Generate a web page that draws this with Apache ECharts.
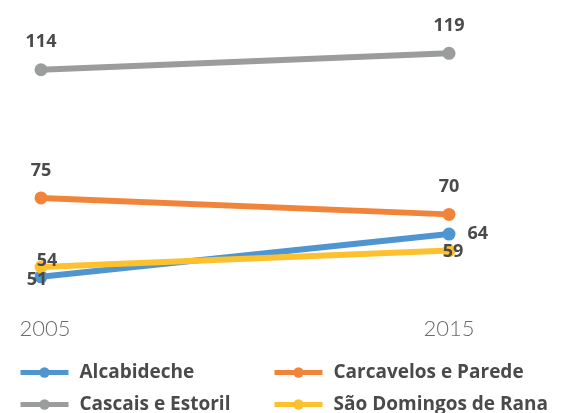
<!DOCTYPE html>
<html>
<head>
<meta charset="utf-8">
<script src="https://cdn.jsdelivr.net/npm/echarts@6/dist/echarts.min.js"></script>
<style>
  html, body { margin: 0; padding: 0; background: #fff; }
  #chart { width: 572px; height: 413px; }
</style>
</head>
<body>
<div id="chart"></div>
<script>
// Years on the category axis
const years = ['2005', '2015'];

// Values per parish
const alcabideche = [51, 64];
const carcavelos = [75, 70];
const cascais = [114, 119];
const saoDomingos = [54, 59];

const names = ['Alcabideche', 'Carcavelos e Parede', 'Cascais e Estoril', 'São Domingos de Rana'];
const colors = ['#4f95d0', '#f2843a', '#9b9d9c', '#fcc12c'];

const textFont = { fontFamily: 'Open Sans', fontWeight: 'bold', fontSize: 18, color: '#4a4a4a' };
const yearFont = { fontFamily: 'Lato', fontWeight: 300, fontSize: 22, color: '#6a6a6a' };

function makeSeries(name, values, color, labelCfg) {
  return {
    name: name,
    type: 'line',
    data: values.map((v, i) => ({
      value: v,
      label: Object.assign({ show: true, formatter: '{c}' }, textFont, labelCfg[i])
    })),
    symbol: 'circle',
    symbolSize: 13,
    lineStyle: { width: 6, color: color },
    itemStyle: { color: color },
    emphasis: { disabled: true },
    animation: false
  };
}

// one legend entry per slot of the 2x2 key below the plot
function legendEntry(name, left, top) {
  return {
    data: [name],
    left: left,
    top: top,
    padding: 0,
    itemWidth: 48,
    itemHeight: 13,
    itemGap: 14,
    lineStyle: { width: 5 },
    textStyle: Object.assign({}, textFont, { fontSize: 19, padding: [0, 0, 0, 6] })
  };
}

const chart = echarts.init(document.getElementById('chart'), null, { renderer: 'canvas' });

chart.setOption({
  backgroundColor: '#fff',
  color: colors,
  grid: { left: 41, right: 123, top: 50, bottom: 100 },
  xAxis: {
    type: 'category',
    data: years,
    boundaryGap: false,
    axisLine: { show: false },
    axisTick: { show: false },
    axisLabel: Object.assign({
      margin: 5,
      // first year is nudged inward from the left edge
      formatter: (v, i) => (i === 0 ? '{first|' + v + '}' : v),
      rich: { first: Object.assign({ padding: [0, 0, 0, 8] }, yearFont) }
    }, yearFont),
    splitLine: { show: false }
  },
  yAxis: {
    type: 'value',
    min: 40,
    max: 120,
    show: false,
    splitLine: { show: false }
  },
  legend: [
    legendEntry(names[0], 18, 363),
    legendEntry(names[1], 272, 363),
    legendEntry(names[2], 18, 395),
    legendEntry(names[3], 272, 395)
  ],
  series: [
    makeSeries(names[0], alcabideche, colors[0], [
      { position: 'inside', offset: [-4, 3] },
      { position: 'right', distance: 12 }
    ]),
    makeSeries(names[1], carcavelos, colors[1], [
      { position: 'top', distance: 12 },
      { position: 'top', distance: 12 }
    ]),
    makeSeries(names[2], cascais, colors[2], [
      { position: 'top', distance: 12 },
      { position: 'top', distance: 12 }
    ]),
    makeSeries(names[3], saoDomingos, colors[3], [
      { position: 'inside', offset: [6, -6] },
      { position: 'inside', offset: [4, 1] }
    ])
  ]
});
</script>
</body>
</html>
